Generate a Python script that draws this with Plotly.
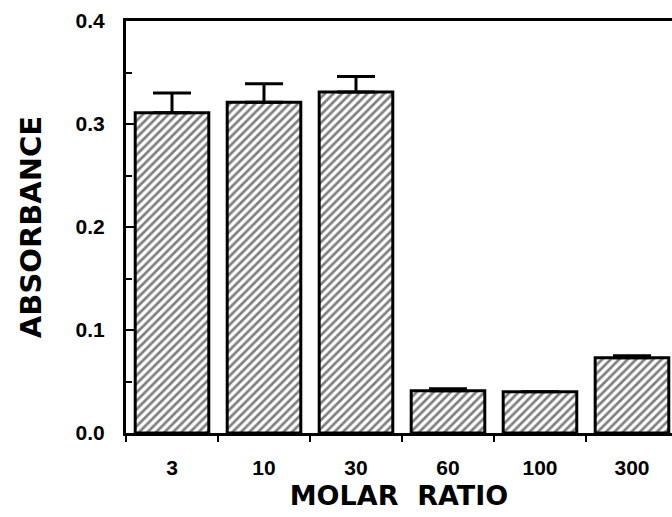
import plotly.graph_objects as go

categories = ["3", "10", "30", "60", "100", "300"]
absorbance = [0.311, 0.321, 0.331, 0.041, 0.040, 0.073]
error_up = [0.019, 0.018, 0.015, 0.002, 0.0, 0.002]
y_ticks = [0.0, 0.1, 0.2, 0.3, 0.4]

fig = go.Figure()
fig.add_trace(go.Bar(
    x=categories,
    y=absorbance,
    marker=dict(
        color="white",
        line=dict(color="black", width=3),
        pattern=dict(shape="/", fgcolor="black", bgcolor="white", size=6, solidity=0.45),
    ),
    error_y=dict(type="data", array=error_up, arrayminus=[0] * len(error_up),
                 symmetric=False, color="black", thickness=3, width=19),
))

fig.update_layout(
    width=672, height=517,
    margin=dict(l=126, r=0, t=21, b=84),
    paper_bgcolor="white", plot_bgcolor="white",
    bargap=0.2,
    showlegend=False,
    font=dict(family="Liberation Sans, Arial, sans-serif", color="black"),
)
fig.update_xaxes(
    type="category",
    range=[-0.5, 5.435],
    showline=True, linecolor="black", linewidth=3, mirror=True,
    ticks="outside", tickson="boundaries", ticklen=6, tickwidth=2, tickcolor="black",
    showgrid=False,
    tickfont=dict(size=21, family="Liberation Sans, Arial, sans-serif", weight="bold"),
    ticklabelstandoff=14,
    title=dict(text="<b>MOLAR&nbsp;&nbsp;RATIO</b>",
               font=dict(size=27, family="DejaVu Sans, sans-serif"), standoff=8),
)
fig.update_yaxes(
    range=[0, 0.4],
    tickvals=y_ticks, tickformat=".1f",
    showline=True, linecolor="black", linewidth=3,
    ticks="inside", ticklen=8, tickwidth=2, tickcolor="black",
    minor=dict(dtick=0.05, ticks="inside", ticklen=6, tickwidth=2, tickcolor="black"),
    showgrid=False, zeroline=False,
    tickfont=dict(size=21, family="Liberation Sans, Arial, sans-serif", weight="bold"),
    ticklabelstandoff=14,
    title=dict(text="<b>ABSORBANCE</b>",
               font=dict(size=29, family="DejaVu Sans, sans-serif"), standoff=26),
)

fig.write_html("out.html")
